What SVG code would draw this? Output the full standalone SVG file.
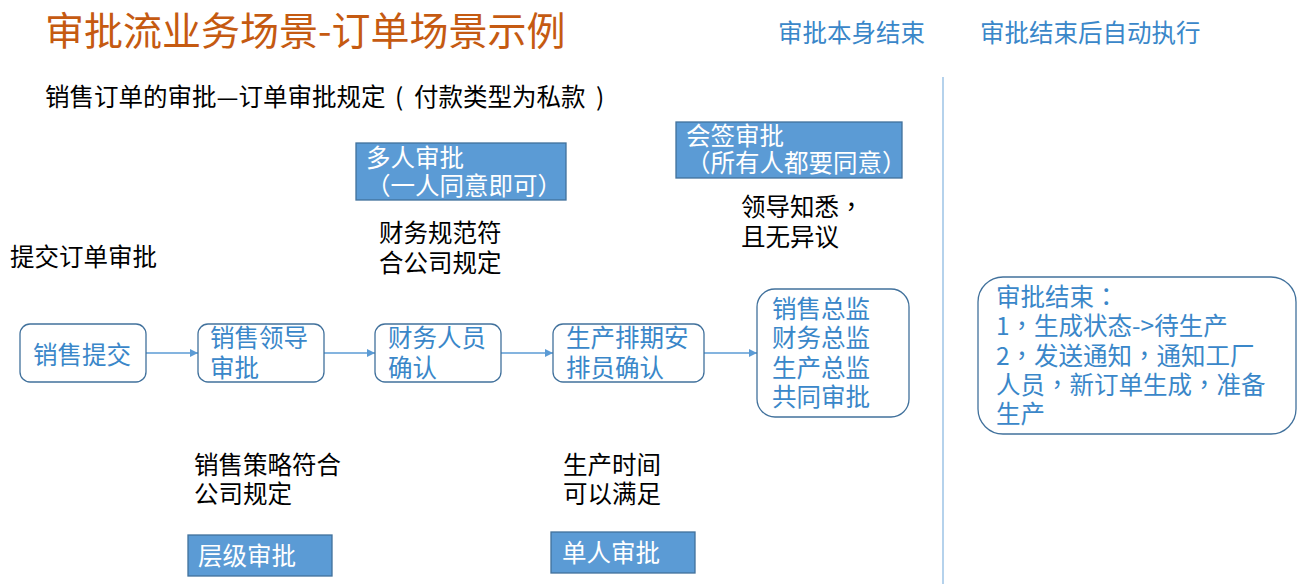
<svg xmlns="http://www.w3.org/2000/svg" width="1299" height="584" viewBox="0 0 1299 584">
<style>
text{font-family:"Noto Sans CJK SC","Microsoft YaHei",sans-serif;font-size:24.5px}
.title{fill:#C55A11;font-size:39px}
.blk{fill:#000}
.blue{fill:#3A87C9}
.wht{fill:#fff}
.p{font-family:"Noto Sans CJK TC","Noto Sans CJK SC",sans-serif}
.node{fill:#fff;stroke:#41719C;stroke-width:1.3}
.tag{fill:#5B9BD5;stroke:#41719C;stroke-width:1.3}
.conn{stroke:#5B9BD5;stroke-width:1.3;fill:none;marker-end:url(#arr)}
</style>
<defs>
<marker id="arr" viewBox="0 0 10 10" refX="10" refY="5" markerWidth="8" markerHeight="8" markerUnits="userSpaceOnUse" orient="auto">
<path d="M0,0 L10,5 L0,10 Z" fill="#5B9BD5"/>
</marker>
</defs>
<rect width="1299" height="584" fill="#fff"/>

<g id="header">
<text class="title" x="45" y="45">审批流业务场景-订单场景示例</text>
<text class="blk" y="106"><tspan x="45">销售订单的审批—订单审批规定</tspan><tspan x="395">(</tspan><tspan x="414">付款类型为私款</tspan><tspan x="596">)</tspan></text>
<text class="blue" x="778" y="42">审批本身结束</text>
<text class="blue" x="980" y="42">审批结束后自动执行</text>
<line x1="943" y1="77" x2="943" y2="584" stroke="#9DC3E6" stroke-width="1.5"/>
</g>

<g id="connectors">
<line class="conn" x1="146" y1="353" x2="198" y2="353"/>
<line class="conn" x1="324" y1="353" x2="375" y2="353"/>
<line class="conn" x1="501" y1="353" x2="553" y2="353"/>
<line class="conn" x1="704" y1="353" x2="757" y2="353"/>
</g>

<g id="n-submit">
<rect class="node" x="20" y="324" width="126" height="58" rx="10"/>
<text class="blue" x="33" y="364">销售提交</text>
</g>
<g id="n-leader">
<rect class="node" x="198" y="324" width="126" height="58" rx="10"/>
<text class="blue"><tspan x="210" y="347">销售领导</tspan><tspan x="210" y="377">审批</tspan></text>
</g>
<g id="n-finance">
<rect class="node" x="375" y="324" width="126" height="58" rx="10"/>
<text class="blue"><tspan x="388" y="347">财务人员</tspan><tspan x="388" y="377">确认</tspan></text>
</g>
<g id="n-production">
<rect class="node" x="553" y="324" width="151" height="58" rx="10"/>
<text class="blue"><tspan x="566" y="347">生产排期安</tspan><tspan x="566" y="377">排员确认</tspan></text>
</g>
<g id="n-directors">
<rect class="node" x="757" y="289" width="152" height="128" rx="18"/>
<text class="blue"><tspan x="772" y="318">销售总监</tspan><tspan x="772" y="347">财务总监</tspan><tspan x="772" y="377">生产总监</tspan><tspan x="772" y="406">共同审批</tspan></text>
</g>
<g id="n-end">
<rect class="node" x="978" y="277" width="318" height="157" rx="25"/>
<text class="blue"><tspan x="996" y="306">审批结束<tspan class="p">：</tspan></tspan><tspan x="996" y="335">1<tspan class="p">，</tspan>生成状态-&gt;待生产</tspan><tspan x="996" y="365">2<tspan class="p">，</tspan>发送通知<tspan class="p">，</tspan>通知工厂</tspan><tspan x="996" y="394">人员<tspan class="p">，</tspan>新订单生成<tspan class="p">，</tspan>准备</tspan><tspan x="996" y="423">生产</tspan></text>
</g>

<g id="t-submit-note">
<text class="blk" x="10" y="266">提交订单审批</text>
</g>
<g id="t-multi">
<rect class="tag" x="356" y="143" width="210" height="57"/>
<text class="wht"><tspan x="366" y="167">多人审批</tspan><tspan x="366" y="195">（一人同意即可）</tspan></text>
</g>
<g id="t-finance-note">
<text class="blk"><tspan x="379" y="242">财务规范符</tspan><tspan x="379" y="272">合公司规定</tspan></text>
</g>
<g id="t-countersign">
<rect class="tag" x="676" y="122" width="226" height="56"/>
<text class="wht"><tspan x="686" y="145">会签审批</tspan><tspan x="686" y="172">（所有人都要同意）</tspan></text>
</g>
<g id="t-leader-note">
<text class="blk"><tspan x="741" y="216">领导知悉<tspan class="p">，</tspan></tspan><tspan x="741" y="246">且无异议</tspan></text>
</g>
<g id="t-sales-note">
<text class="blk"><tspan x="194" y="474">销售策略符合</tspan><tspan x="194" y="503">公司规定</tspan></text>
</g>
<g id="t-hier">
<rect class="tag" x="188" y="535" width="144" height="41"/>
<text class="wht" x="198" y="565">层级审批</text>
</g>
<g id="t-prod-note">
<text class="blk"><tspan x="563" y="474">生产时间</tspan><tspan x="563" y="503">可以满足</tspan></text>
</g>
<g id="t-single">
<rect class="tag" x="551" y="532" width="144" height="41"/>
<text class="wht" x="562" y="562">单人审批</text>
</g>
</svg>
